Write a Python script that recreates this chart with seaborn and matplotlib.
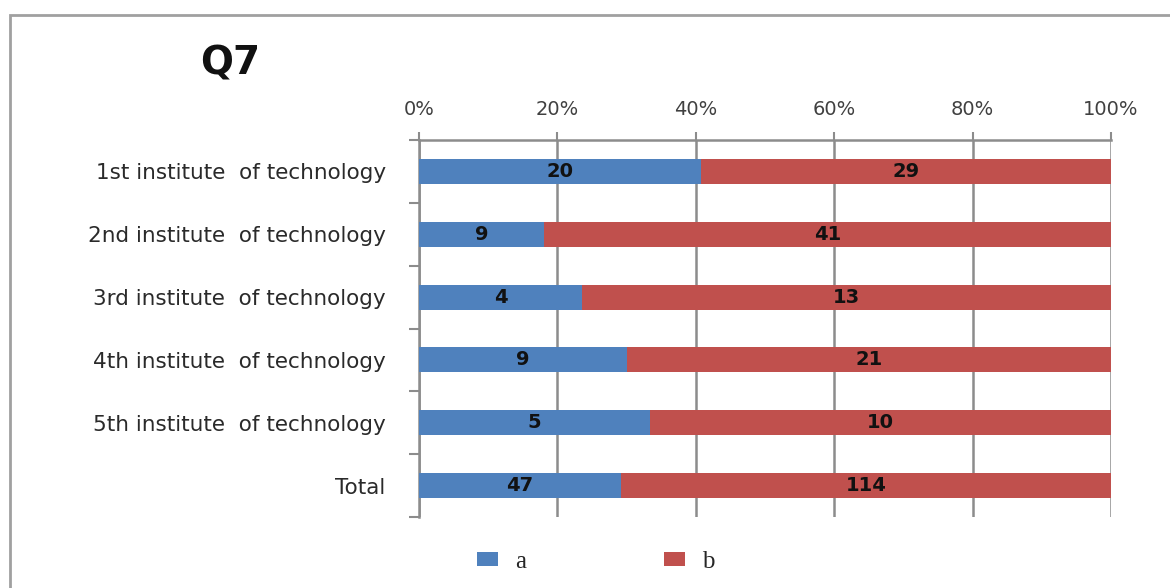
import numpy as np
import pandas as pd
import matplotlib
matplotlib.use("Agg")
import matplotlib.pyplot as plt
from matplotlib.patches import Rectangle, Patch
import seaborn as sns

categories = ["1st institute  of technology", "2nd institute  of technology",
              "3rd institute  of technology", "4th institute  of technology",
              "5th institute  of technology", "Total"]
a_vals = [20, 9, 4, 9, 5, 47]
b_vals = [29, 41, 13, 21, 10, 114]
x_ticks = [0, 20, 40, 60, 80, 100]
x_ticklabels = ["0%", "20%", "40%", "60%", "80%", "100%"]

BLUE = "#4F81BD"
RED = "#C0504D"
GRID = "#8C8C8C"

sns.set_theme(style="white")
plt.rcParams["font.family"] = ["DejaVu Sans"]

df = pd.DataFrame({"cat": categories, "a": a_vals, "b": b_vals})
df["total"] = df["a"] + df["b"]
df["a_pct"] = df["a"] / df["total"] * 100
df["full"] = 100.0

fig = plt.figure(figsize=(11.7, 5.88), dpi=100)
ax = fig.add_axes([419/1170, 1 - 517/588, (1111 - 419)/1170, (517 - 140)/588])

# outer chart frame
fig.patches.append(Rectangle((10/1170, -0.1), 1.2, 1 - 15/588 + 0.1, transform=fig.transFigure,
                             fill=False, edgecolor="#A0A0A0", linewidth=2, zorder=0))

sns.barplot(data=df, y="cat", x="full", orient="h", color=RED, saturation=1,
            width=0.4, ax=ax, zorder=3, edgecolor="none")
sns.barplot(data=df, y="cat", x="a_pct", orient="h", color=BLUE, saturation=1,
            width=0.4, ax=ax, zorder=4, edgecolor="none")

for i, row in df.iterrows():
    ax.text(row["a_pct"] / 2, i, str(row["a"]), ha="center", va="center",
            fontsize=14, fontweight="bold", color="#111111", zorder=6)
    ax.text(row["a_pct"] + (100 - row["a_pct"]) / 2, i, str(row["b"]), ha="center", va="center",
            fontsize=14, fontweight="bold", color="#111111", zorder=6)

ax.set_xlim(0, 100)
ax.set_ylim(5.5, -0.5)
ax.xaxis.tick_top()
ax.set_xticks(x_ticks)
ax.set_xticklabels(x_ticklabels, fontsize=14, color="#404040")
ax.tick_params(axis="x", which="major", direction="out", length=6, width=1.5, color=GRID, pad=9,
               top=True, bottom=False)
ax.grid(axis="x", color=GRID, linewidth=1.8, zorder=0)
ax.set_axisbelow(True)
ax.set_xlabel("")
ax.set_ylabel("")
ax.set_yticks(range(len(categories)))
ax.set_yticklabels(categories, fontsize=15.5, color="#2a2a2a")
ax.tick_params(axis="y", which="major", length=0, pad=24)
ax.set_yticks(np.arange(-0.5, len(categories), 1), minor=True)
ax.tick_params(axis="y", which="minor", direction="out", length=7, width=1.5, color=GRID, left=True)

for s in ["right", "bottom"]:
    ax.spines[s].set_visible(False)
for s in ["left", "top"]:
    ax.spines[s].set_color(GRID)
    ax.spines[s].set_linewidth(1.8)

fig.text(200/1170, 1 - 63/588, "Q7", fontsize=28, fontweight="bold", color="#111111",
         ha="left", va="center")

handles = [Patch(facecolor=BLUE, edgecolor="none"), Patch(facecolor=RED, edgecolor="none")]
fig.legend(handles, ["a", "b"], loc="center", bbox_to_anchor=(596/1170, 1 - 562/588), ncol=2,
           frameon=False, prop={"family": "Liberation Serif", "size": 18},
           handlelength=0.84, handleheight=0.45, handletextpad=0.7, columnspacing=5.5)

fig.savefig("out.png", dpi=100)
